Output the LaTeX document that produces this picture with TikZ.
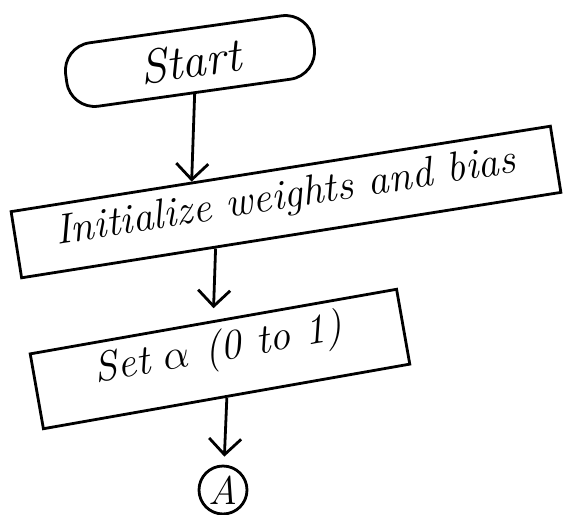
\documentclass[tikz,border=0pt]{standalone}
\usepackage{fix-cm}
\usetikzlibrary{arrows.meta,calc}

\begin{document}
\begin{tikzpicture}[x=1pt,y=-1pt,
  every node/.style={line width=2.8pt,font=\fontsize{42}{48}\selectfont\itshape},
  term/.style={draw,rounded corners=28pt,minimum width=250pt,minimum height=64pt},
  proc/.style={draw,inner sep=0pt},
  conn/.style={draw,circle,inner sep=0pt,minimum size=48pt,font=\fontsize{40}{44}\selectfont\itshape},
  arr/.style={line width=2.8pt,-{Straight Barb[length=16pt,width=32pt]}}]
  \useasboundingbox (0,0) rectangle (566,515);
  \node[term,rotate=8,font=\fontsize{48}{54}\selectfont\itshape] (start) at (190,61) {Start};
  \node[proc,rotate=9,minimum width=546pt,minimum height=67pt,text depth=16pt] (init) at (286,202) {Initialize weights and bias};
  \node[proc,rotate=10,minimum width=372pt,minimum height=76pt,text depth=28pt] (set) at (220,359) {Set $\alpha$ (0 to 1)};
  \node[conn] (a) at (223,490) {A};
  \draw[arr] (start.south) -- ($(init.north west)!0.336!(init.north east)$);
  \draw[arr,shorten >=12pt] ($(init.south west)!0.36!(init.south east)$) -- (set.north);
  \draw[arr,shorten >=8pt] (set.south) -- (a);
\end{tikzpicture}
\end{document}
